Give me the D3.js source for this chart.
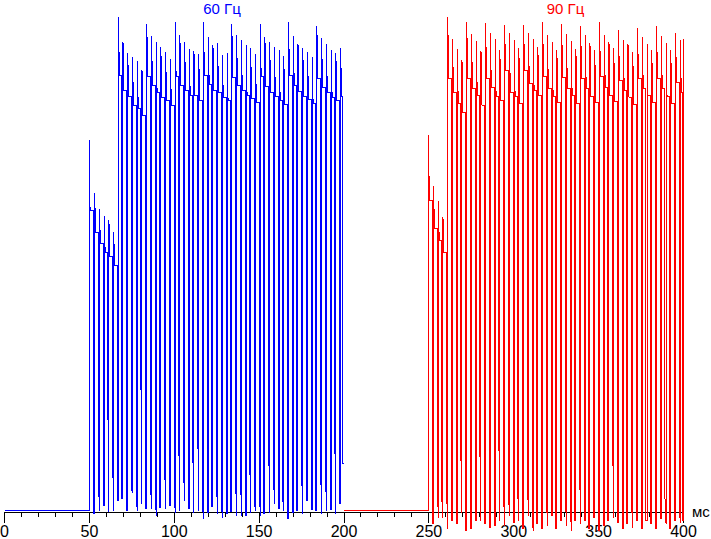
<!DOCTYPE html>
<html>
<head>
<meta charset="utf-8">
<script src="https://cdn.jsdelivr.net/npm/d3@7/dist/d3.min.js"></script>
<style>
  html, body { margin: 0; padding: 0; background: #fff; }
  svg { display: block; }
</style>
</head>
<body>
<div id="chart"></div>
<script>
// ---------- data (time in ms, brightness in arbitrary units, 0 = dark) ----------
const xTicksMajor = [0, 50, 100, 150, 200, 250, 300, 350, 400];
const xTicksMinor = d3.range(0, 401, 10);
const unitLabel = "мс";
const titleBlue = "60 Гц";
const titleRed = "90 Гц";

// 60 Hz section
const blueStart = 0;
const blueRise = 49.8;
const blueDips = [52.5, 55.3, 58.1, 60.9, 63.7, 66.5, 69.2, 72.0, 74.8, 77.6, 80.4, 83.2, 86.0, 88.7, 91.5, 94.3, 97.1, 99.9, 102.7, 105.5, 108.2, 111.0, 113.8, 116.6, 119.4, 122.2, 124.9, 127.7, 130.5, 133.3, 136.1, 138.9, 141.7, 144.4, 147.2, 150.0, 152.8, 155.6, 158.4, 161.2, 163.9, 166.7, 169.5, 172.3, 175.1, 177.9, 180.6, 183.4, 186.2, 189.0, 191.8, 194.6, 197.4, 199.4];
const blueMid = [-3, 37, 5, 105, 52, 10, 12, 0, 21, 18, 125, 2, 30, 78, 3, 52, 5, 67, 65, 40, 2, 52, 92, 8, -2, 4, 29, 13, -3, -1, 37, 70, -5, 58, 10, 58, -3, 74, 43, 2, 12, -8, -2, 0, 35, 10, 1, 0, 47, 56, 1, 70, 7, 47];
const blueLow = [-3, 0, 5, -1, 0, 10, 12, 0, 18, 0, 7, 2, 2, -5, 3, 2, 5, -2, 0, 10, 2, -2, 0, -8, -2, 4, -3, -7, -3, -1, -5, -5, -5, -2, 0, -5, -3, -2, 7, 2, 0, -8, -2, 0, -3, 10, 1, 0, -3, 0, 1, -3, 7, 47];
const bluePeak = [370, 317, 301, 294, 290, 278, 493, 468, 457, 453, 449, 440, 486, 474, 468, 463, 458, 451, 488, 475, 468, 461, 459, 456, 488, 473, 465, 467, 455, 457, 486, 475, 470, 465, 462, 456, 486, 473, 468, 463, 460, 454, 488, 474, 466, 462, 458, 453, 484, 472, 466, 460, 457, 462];
const bluePlat = [300, 278, 267, 258, 254, 245, 435, 420, 414, 405, 402, 395, 434, 425, 418, 413, 410, 405, 434, 425, 420, 415, 415, 410, 435, 426, 420, 418, 413, 410, 433, 425, 420, 415, 412, 408, 434, 424, 418, 414, 410, 406, 435, 425, 419, 414, 411, 407, 432, 423, 418, 413, 410, 414];

// 90 Hz section
const redStart = 200;
const redRise = 249.7;
const redDips = [252.1, 254.9, 257.7, 260.5, 263.3, 266.1, 268.9, 271.7, 274.5, 277.3, 280.1, 282.8, 285.6, 288.4, 291.2, 294.0, 296.8, 299.6, 302.4, 305.2, 308.0, 310.8, 313.6, 316.4, 319.2, 322.0, 324.8, 327.6, 330.4, 333.2, 336.0, 338.8, 341.5, 344.3, 347.1, 349.9, 352.7, 355.5, 358.3, 361.1, 363.9, 366.7, 369.5, 372.3, 375.1, 377.9, 380.7, 383.5, 386.3, 389.1, 391.9, 394.7, 397.5, 399.6];
const redMid = [-13, 49, 10, 18, -10, -13, 52, -20, -18, -10, 57, -13, -17, -15, 78, 18, 30, -12, 17, -18, 43, 8, -13, -18, 23, -5, -18, -10, 25, 58, -10, 42, -10, -18, -7, -20, -15, -10, 67, -12, -18, -13, 3, -10, -18, -10, -13, -18, -8, 12, -18, -10, 7, -10];
const redLow = [-13, -7, -7, -18, -10, -13, -2, -20, -18, -10, -10, -13, -17, -15, -10, -15, -5, -12, -10, -18, -5, -20, -13, -18, -15, -5, -18, -10, -15, -20, -10, -13, -10, -18, -7, -20, -15, -10, -7, -12, -18, -13, -17, -10, -18, -10, -13, -18, -8, -13, -18, -10, -12, -10];
const redPeak = [375, 324, 309, 293, 493, 471, 461, 450, 488, 476, 469, 459, 487, 477, 471, 460, 485, 477, 470, 462, 485, 477, 471, 463, 488, 475, 468, 460, 486, 476, 469, 461, 484, 475, 467, 460, 488, 475, 468, 462, 480, 470, 466, 458, 482, 473, 466, 460, 484, 474, 467, 460, 477, 470, 472];
const redPlat = [310, 282, 270, 258, 432, 418, 407, 398, 432, 422, 415, 405, 432, 423, 414, 410, 440, 418, 414, 407, 440, 427, 420, 415, 434, 422, 414, 408, 433, 422, 415, 407, 432, 422, 414, 408, 434, 423, 415, 409, 430, 420, 413, 406, 432, 422, 415, 408, 432, 422, 414, 407, 428, 418];

// ---------- drawing ----------
const W = 711, H = 539;
const STEP = 0.6; // ms between samples around each dark gap

const x = d3.scaleLinear().domain([0, 400]).range([4, 683]);
const y = d3.scaleLinear().domain([0, 500]).range([510.5, 10.5]);

function buildSeries(start, rise, dips, mids, lows, peaks, plats) {
  const pts = [[start, 0], [rise, 0], [rise, peaks[0]], [rise + STEP, plats[0]]];
  dips.forEach((t, i) => {
    pts.push([t, plats[i]]);
    pts.push([t, mids[i]]);
    pts.push([t + STEP, lows[i]]);
    if (peaks[i + 1] !== undefined) {
      pts.push([t + STEP, peaks[i + 1]]);
      if (plats[i + 1] !== undefined) pts.push([t + 2 * STEP, plats[i + 1]]);
    }
  });
  return pts;
}

const blueSeries = buildSeries(blueStart, blueRise, blueDips, blueMid, blueLow, bluePeak, bluePlat);
const redSeries = buildSeries(redStart, redRise, redDips, redMid, redLow, redPeak, redPlat);

const svg = d3.select("#chart").append("svg")
  .attr("width", W).attr("height", H)
  .attr("viewBox", `0 0 ${W} ${H}`);

// minor ticks
svg.append("g")
  .attr("transform", "translate(0,512)")
  .call(d3.axisBottom(x).tickValues(xTicksMinor).tickSize(5).tickSizeOuter(0).tickFormat(""))
  .call(g => g.selectAll("line,path").attr("stroke", "#000").attr("shape-rendering", "crispEdges"));

// major ticks + labels
svg.append("g")
  .attr("transform", "translate(0,512)")
  .call(d3.axisBottom(x).tickValues(xTicksMajor).tickSize(11).tickSizeOuter(0).tickFormat(d3.format("d")))
  .call(g => g.selectAll("line,path").attr("stroke", "#000").attr("shape-rendering", "crispEdges"))
  .call(g => g.selectAll("text")
    .attr("fill", "#000")
    .style("font-family", "'Liberation Sans', Arial, sans-serif")
    .style("font-size", "16px"));

const line = d3.line().x(d => x(d[0]) + 0.5).y(d => y(d[1]));

svg.append("path")
  .datum(blueSeries)
  .attr("d", line)
  .attr("fill", "none")
  .attr("stroke", "#0000ff")
  .attr("stroke-width", 1)
  .attr("shape-rendering", "crispEdges");

svg.append("path")
  .datum(redSeries)
  .attr("d", line)
  .attr("fill", "none")
  .attr("stroke", "#ff0000")
  .attr("stroke-width", 1)
  .attr("shape-rendering", "crispEdges");

// unit label
svg.append("text")
  .attr("x", 692).attr("y", 517)
  .style("font-family", "'Liberation Sans', Arial, sans-serif")
  .style("font-size", "15px")
  .attr("fill", "#000")
  .text(unitLabel);

// titles
svg.append("text")
  .attr("x", x(128.4)).attr("y", 14)
  .attr("text-anchor", "middle")
  .style("font-family", "'Liberation Sans', Arial, sans-serif")
  .style("font-size", "15px")
  .attr("fill", "#0000ff")
  .text(titleBlue);

svg.append("text")
  .attr("x", x(330.8)).attr("y", 14)
  .attr("text-anchor", "middle")
  .style("font-family", "'Liberation Sans', Arial, sans-serif")
  .style("font-size", "15px")
  .attr("fill", "#ff0000")
  .text(titleRed);
</script>
</body>
</html>
